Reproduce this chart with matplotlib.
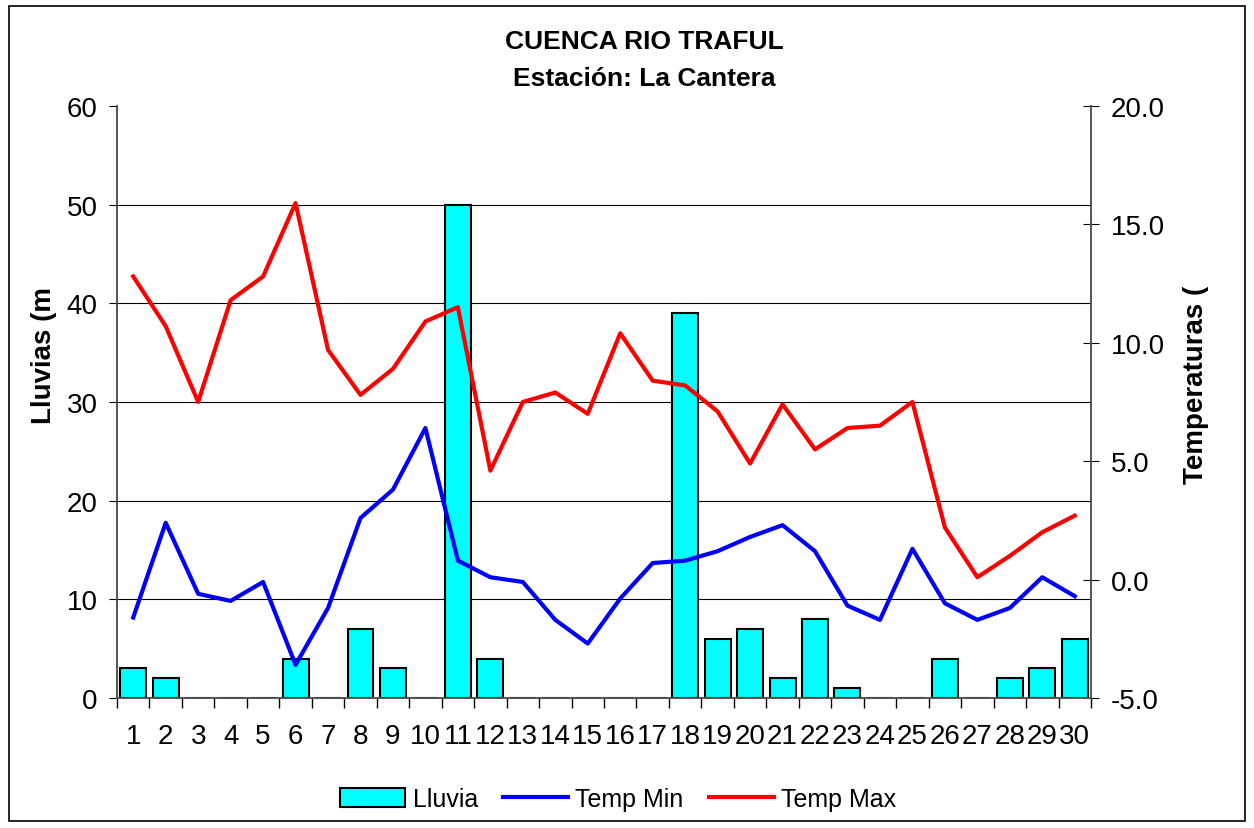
import numpy as np
import matplotlib.pyplot as plt
from matplotlib.patches import Rectangle
from matplotlib.ticker import FixedLocator, FormatStrFormatter

plt.rcParams['font.family'] = ['Liberation Sans', 'DejaVu Sans']

dias = list(range(1, 31))
lluvia = [3, 2, 0, 0, 0, 4, 0, 7, 3, 0, 50, 4, 0, 0, 0, 0, 0, 39, 6, 7,
          2, 8, 1, 0, 0, 4, 0, 2, 3, 6]
temp_min = [-1.6, 2.4, -0.6, -0.9, -0.1, -3.6, -1.2, 2.6, 3.8, 6.4,
            0.8, 0.1, -0.1, -1.7, -2.7, -0.8, 0.7, 0.8, 1.2, 1.8,
            2.3, 1.2, -1.1, -1.7, 1.3, -1.0, -1.7, -1.2, 0.1, -0.7]
temp_max = [12.8, 10.7, 7.5, 11.8, 12.8, 15.9, 9.7, 7.8, 8.9, 10.9,
            11.5, 4.6, 7.5, 7.9, 7.0, 10.4, 8.4, 8.2, 7.1, 4.9,
            7.4, 5.5, 6.4, 6.5, 7.5, 2.2, 0.1, 1.0, 2.0, 2.7]

fig = plt.figure(figsize=(12.54, 8.29), dpi=100)
fig.patches.append(Rectangle((0.007, 0.008), 0.986, 0.984, transform=fig.transFigure,
                             fill=False, edgecolor='black', linewidth=1.2))

ax = fig.add_axes([0.0933, 0.1568, 0.7767, 0.7142])
ax2 = ax.twinx()

ax.set_zorder(1)
ax.patch.set_visible(False)
ax2.set_zorder(0)

# grid and bars on the rain axis
for v in range(10, 60, 10):
    ax.axhline(v, color='black', linewidth=0.8, zorder=0)
ax.bar(dias, lluvia, width=0.8, color='cyan', edgecolor='black', linewidth=1.5,
       label='Lluvia', zorder=2)

# temperature lines on top of the bars
ax3 = ax.twinx()
ax3.set_zorder(2)
ax3.patch.set_visible(False)
ax3.plot(dias, temp_min, color='blue', linewidth=3, label='Temp Min')
ax3.plot(dias, temp_max, color='red', linewidth=3, label='Temp Max')
ax3.set_ylim(-5, 20)
ax3.axis('off')

ax.set_xlim(0.5, 30.5)
ax.set_ylim(0, 60)
ax2.set_ylim(-5, 20)

ax.set_xticks(dias)
ax.set_xticklabels([str(d) for d in dias], fontsize=20)
ax.tick_params(axis='x', which='major', length=0, pad=18)
ax.xaxis.set_minor_locator(FixedLocator(np.arange(0.5, 31, 1)))
ax.tick_params(axis='x', which='minor', length=7, direction='out', width=1)

ax.set_yticks(range(0, 61, 10))
ax.tick_params(axis='y', labelsize=20, length=6, direction='out', pad=8)
ax2.set_yticks(np.arange(-5, 20.1, 5))
ax2.yaxis.set_major_formatter(FormatStrFormatter('%.1f'))
ax2.tick_params(axis='y', labelsize=20, length=12, direction='inout', pad=8)

for a in (ax, ax2):
    a.spines['top'].set_visible(False)
    for s in ('left', 'right', 'bottom'):
        a.spines[s].set_color('#555555')
        a.spines[s].set_linewidth(1.2)

ax.set_ylabel('Lluvias (m', fontsize=20, fontweight='bold')
ax.yaxis.set_label_coords(-0.062, 0.58)
ax2.set_ylabel('Temperaturas (', fontsize=20, fontweight='bold')
ax2.yaxis.set_label_coords(1.094, 0.53)

fig.text(0.514, 0.949, 'CUENCA RIO TRAFUL', ha='center', va='center',
         fontsize=19, fontweight='bold')
fig.text(0.514, 0.905, 'Estación: La Cantera', ha='center', va='center',
         fontsize=19, fontweight='bold')

handles = ax.get_legend_handles_labels()[0] + ax3.get_legend_handles_labels()[0]
labels = ['Lluvia', 'Temp Min', 'Temp Max']
fig.legend(handles, labels, loc='center', bbox_to_anchor=(0.493, 0.035), ncol=3,
           frameon=False, fontsize=18, handlelength=2.6, handleheight=0.8,
           columnspacing=1.0, handletextpad=0.3)

fig.savefig('out.png', dpi=100)
